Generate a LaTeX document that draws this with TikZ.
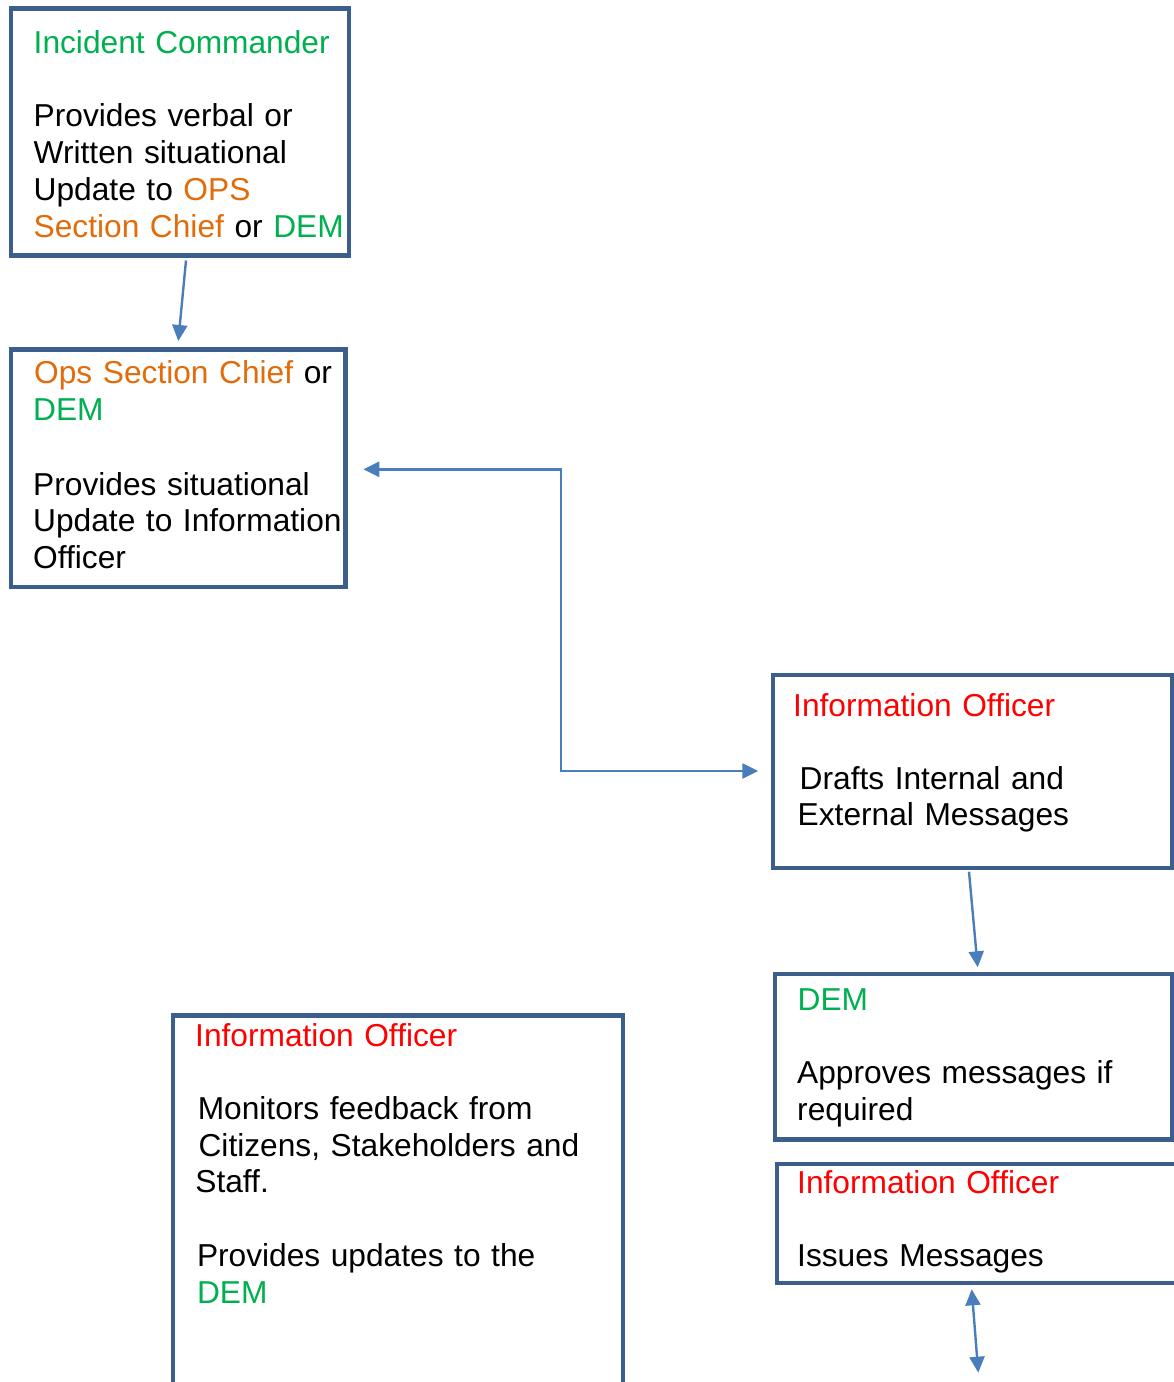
\documentclass[tikz,border=0pt]{standalone}
\usepackage{fontspec}
\setmainfont{Liberation Sans}
\usetikzlibrary{arrows.meta}

\definecolor{roleGreen}{HTML}{00B050}
\definecolor{roleOrange}{HTML}{E36C0A}
\definecolor{roleRed}{HTML}{FF0000}
\definecolor{boxEdge}{HTML}{3B5E8C}
\definecolor{flowBlue}{HTML}{4A7EBB}

\newcommand{\gr}[1]{\textcolor{roleGreen}{#1}}
\newcommand{\og}[1]{\textcolor{roleOrange}{#1}}
\newcommand{\rd}[1]{\textcolor{roleRed}{#1}}

\begin{document}
\begin{tikzpicture}[x=1pt,y=-1pt,
  box/.style={draw=boxEdge, line width=4.5pt, anchor=north west, inner sep=0pt,
    outer sep=0pt, fill=white},
  txt/.style={anchor=base west, inner sep=0pt, text width=470pt, align=left,
    font=\fontsize{31.7pt}{36.8pt}\selectfont},
  flow/.style={draw=flowBlue, line width=2.4pt,
    -{Triangle[length=16pt,width=15pt]}},
  flow2/.style={draw=flowBlue, line width=2.4pt,
    {Triangle[length=16pt,width=15pt]}-{Triangle[length=16pt,width=15pt]}}]

\clip (0,0) rectangle (1174,1382);

% boxes
\node[box, minimum width=338pt,   minimum height=247pt]   (cmd)  at (11,8.5)   {};
\node[box, minimum width=334.5pt, minimum height=237.5pt] (ops)  at (11,349.5) {};
\node[box, minimum width=399.5pt, minimum height=193pt]   (draft) at (773,675) {};
\node[box, minimum width=397.5pt, minimum height=165.5pt] (dem)  at (775,974)  {};
\node[box, minimum width=423pt,   minimum height=119pt]   (issue) at (777,1164) {};
\node[box, minimum width=450pt,   minimum height=404.5pt] (mon)  at (173,1015.5) {};

% incident commander
\node[txt] (cmdT) at (33.5,53.3) {\gr{Incident Commander}};
\node[txt] (cmdB) at (33.5,126.7) {Provides verbal or\\Written situational\\Update to \og{OPS}\\\og{Section Chief} or \gr{DEM}};

% ops section chief
\node[txt] (opsT) at (33,383.5) {\hspace*{1pt}\og{Ops Section Chief} or\\\gr{DEM}};
\node[txt] (opsB) at (33,495) {Provides situational\\Update to Information\\Officer};

% drafting
\node[txt] (draftT) at (793,716) {\rd{Information Officer}};
\node[txt] (draftB) at (799.5,789) {Drafts Internal and\\\hspace*{-2pt}External Messages};

% approval
\node[txt] (demT) at (797.5,1010) {\gr{DEM}};
\node[txt] (demB) at (797,1083.3) {Approves messages if\\required};

% issuing
\node[txt] (issueT) at (797,1193) {\rd{Information Officer}};
\node[txt] (issueB) at (797,1266.7) {Issues Messages};

% monitoring
\node[txt] (monT) at (195,1046.7) {\rd{Information Officer}};
\node[txt] (monB) at (197.6,1119.3) {Monitors feedback from\\\hspace*{0.8pt}Citizens, Stakeholders and\\\hspace*{-2.4pt}Staff.};
\node[txt] (monC) at (196.8,1266.7) {Provides updates to the\\\gr{DEM}};

% connector end points
\coordinate (c1s) at (186,260.5);
\coordinate (c1e) at (178.3,341);
\coordinate (c2s) at (363.3,469.3);
\coordinate (c2e) at (758.3,771);
\coordinate (c3s) at (969,871.7);
\coordinate (c3e) at (977.7,967.3);
\coordinate (c4s) at (971.7,1289.3);
\coordinate (c4e) at (978.3,1372.7);

% connectors
\draw[flow] (c1s) -- (c1e);
\draw[flow2] (c2s) -- (560.7,469.3) -- (560.7,771) -- (c2e);
\draw[flow] (c3s) -- (c3e);
\draw[flow2] (c4s) -- (c4e);
\end{tikzpicture}
\end{document}
